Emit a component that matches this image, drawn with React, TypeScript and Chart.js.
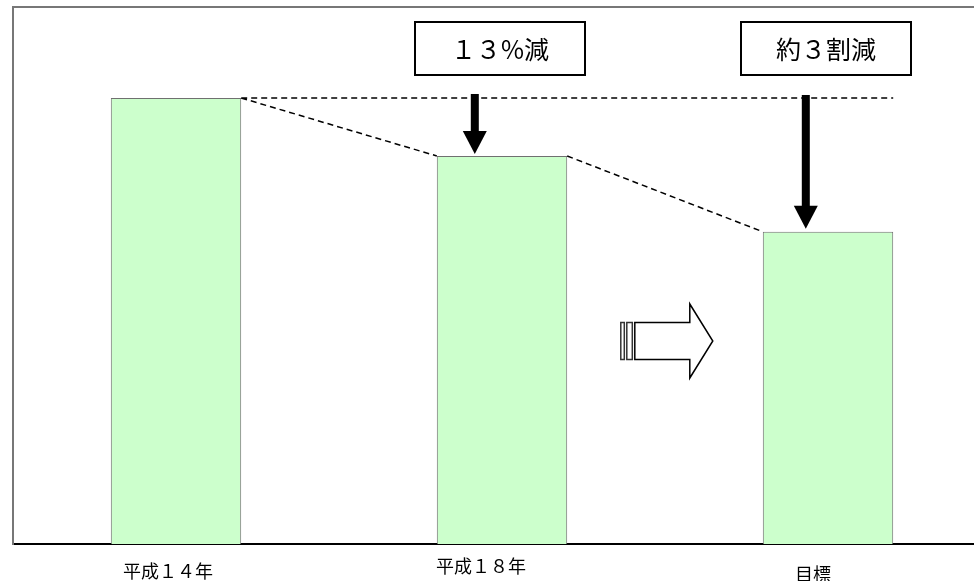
import React, { useEffect, useRef } from "react";
import { Chart, registerables } from "chart.js";

Chart.register(...registerables);

const categories = ["平成１４年", "平成１８年", "目標"];
const values = [100, 87, 70];
const reductionLabels = ["１３%減", "約３割減"];

const FONT = '"Noto Sans CJK JP", "Noto Sans", sans-serif';

const annotationPlugin = {
  id: "annotations",
  afterDatasetsDraw(chart: any) {
    const ctx: CanvasRenderingContext2D = chart.ctx;
    const area = chart.chartArea;
    const xs = chart.scales.x;
    const bars = chart.getDatasetMeta(0).data.map((el: any) => {
      const p = el.getProps(["x", "y", "width"], true);
      return { x: p.x, y: p.y, w: p.width, l: p.x - p.width / 2, r: p.x + p.width / 2 };
    });
    ctx.save();

    // top frame line
    ctx.strokeStyle = "#777777";
    ctx.lineWidth = 2;
    ctx.beginPath();
    ctx.moveTo(area.left - 1, area.top);
    ctx.lineTo(chart.width, area.top);
    ctx.stroke();

    // dashed guide lines
    ctx.setLineDash([6, 4]);
    ctx.strokeStyle = "#000000";
    ctx.lineWidth = 1.5;
    ctx.beginPath();
    ctx.moveTo(bars[0].r, bars[0].y);
    ctx.lineTo(bars[2].r, bars[0].y);
    ctx.moveTo(bars[0].r, bars[0].y);
    ctx.lineTo(bars[1].l, bars[1].y);
    ctx.moveTo(bars[1].r, bars[1].y);
    ctx.lineTo(bars[2].l, bars[2].y);
    ctx.stroke();
    ctx.setLineDash([]);

    // down arrows
    const downArrow = (cx: number, top: number, tip: number) => {
      const headH = 23;
      const headW = 24;
      const shaftW = 8;
      ctx.fillStyle = "#000000";
      ctx.fillRect(cx - shaftW / 2, top, shaftW, tip - headH - top + 1);
      ctx.beginPath();
      ctx.moveTo(cx - headW / 2, tip - headH);
      ctx.lineTo(cx + headW / 2, tip - headH);
      ctx.lineTo(cx, tip);
      ctx.closePath();
      ctx.fill();
    };
    downArrow(bars[1].l + 38, bars[0].y - 4, bars[1].y - 2);
    downArrow(bars[2].l + 43, bars[0].y - 3, bars[2].y - 3);

    // label boxes
    ctx.font = `25px ${FONT}`;
    ctx.textAlign = "center";
    ctx.textBaseline = "middle";
    [1, 2].forEach((bi, k) => {
      const cx = bars[bi].x - 2;
      const bw = 170;
      const bh = 53;
      const top = area.top + 15;
      ctx.fillStyle = "#ffffff";
      ctx.fillRect(cx - bw / 2, top, bw, bh);
      ctx.strokeStyle = "#000000";
      ctx.lineWidth = 2;
      ctx.strokeRect(cx - bw / 2, top, bw, bh);
      ctx.fillStyle = "#000000";
      ctx.fillText(reductionLabels[k], cx, top + bh / 2 + 1);
    });

    // hollow right arrow
    const tipX = bars[2].l - 50;
    const headX = tipX - 23;
    const bodyX = tipX - 78;
    const cy = area.top + 334;
    ctx.strokeStyle = "#000000";
    ctx.lineWidth = 1.5;
    ctx.fillStyle = "#ffffff";
    ctx.beginPath();
    ctx.moveTo(bodyX, cy - 18.5);
    ctx.lineTo(headX, cy - 18.5);
    ctx.lineTo(headX, cy - 37);
    ctx.lineTo(tipX, cy);
    ctx.lineTo(headX, cy + 37);
    ctx.lineTo(headX, cy + 18.5);
    ctx.lineTo(bodyX, cy + 18.5);
    ctx.closePath();
    ctx.fill();
    ctx.stroke();
    ctx.strokeStyle = "#333333";
    ctx.strokeRect(bodyX - 8, cy - 18.5, 5.5, 37);
    ctx.strokeRect(bodyX - 14, cy - 18.5, 3.5, 37);

    // category labels
    const nudgeX = [-8, -21, -15];
    const labelY = [571, 566.5, 574];
    ctx.font = `18px ${FONT}`;
    ctx.fillStyle = "#000000";
    ctx.textAlign = "center";
    ctx.textBaseline = "middle";
    categories.forEach((c, i) => {
      ctx.fillText(c, xs.getPixelForValue(i) + nudgeX[i], labelY[i]);
    });

    ctx.restore();
  },
};

export default function App() {
  const ref = useRef<HTMLCanvasElement | null>(null);
  useEffect(() => {
    if (!ref.current) return;
    Chart.defaults.font.family = FONT;
    const chart = new Chart(ref.current, {
      type: "bar",
      data: {
        labels: categories,
        datasets: [
          {
            data: values,
            backgroundColor: "#CCFFCC",
            borderColor: "#707070",
            borderWidth: 1,
            barPercentage: 0.4,
            categoryPercentage: 1,
          },
        ],
      },
      options: {
        responsive: false,
        animation: false,
        devicePixelRatio: 1,
        layout: { padding: { left: 13, top: 7, right: 19, bottom: 37 } },
        plugins: { legend: { display: false }, tooltip: { enabled: false } },
        scales: {
          x: {
            grid: { display: false, drawTicks: false },
            ticks: { display: false },
            border: { display: true, color: "#000000", width: 2 },
          },
          y: {
            min: 0,
            max: 120.4,
            grid: { display: false, drawTicks: false },
            ticks: { display: false },
            border: { display: true, color: "#777777", width: 2 },
          },
        },
      },
      plugins: [annotationPlugin],
    });
    return () => chart.destroy();
  }, []);
  return (
    <div
      style={{
        position: "fixed",
        left: 0,
        top: 0,
        width: 974,
        height: 581,
        overflow: "hidden",
        background: "#ffffff",
      }}
    >
      <canvas ref={ref} width={1010} height={581} style={{ display: "block" }} />
    </div>
  );
}
